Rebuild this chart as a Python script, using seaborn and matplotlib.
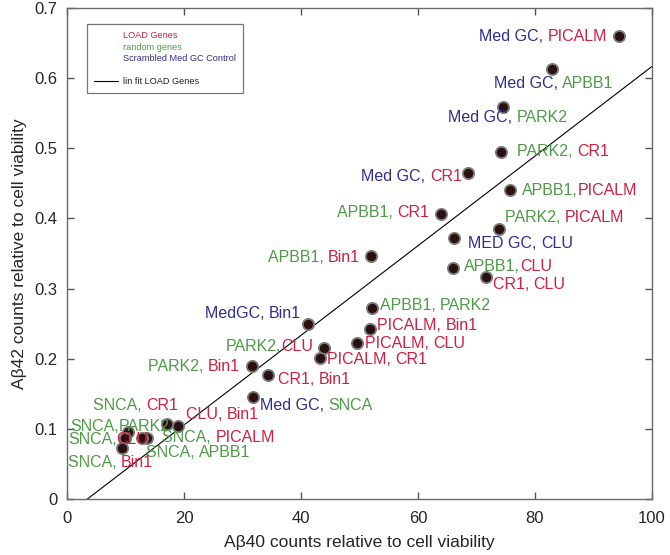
import numpy as np
import pandas as pd
import matplotlib
matplotlib.use("Agg")
import matplotlib.pyplot as plt
from matplotlib.lines import Line2D
import seaborn as sns

# gene pairs: Abeta40 (x) and Abeta42 (y) counts relative to cell viability
ab40 = [94.4, 82.9, 74.5, 74.2, 68.5, 75.7, 63.9, 73.8, 66.2, 52.0,
        66.0, 71.6, 52.1, 51.8, 41.2, 49.6, 43.9, 43.2, 31.6, 34.4,
        31.8, 19.0, 17.1, 10.4, 9.9, 13.7, 12.8, 9.4]
ab42 = [0.660, 0.613, 0.559, 0.495, 0.465, 0.441, 0.406, 0.385, 0.372, 0.346,
        0.329, 0.317, 0.272, 0.242, 0.249, 0.222, 0.215, 0.201, 0.190, 0.177,
        0.145, 0.104, 0.107, 0.096, 0.087, 0.087, 0.087, 0.073]
gene_a = ["Med GC, ", "Med GC, ", "Med GC, ", "PARK2, ", "Med GC, ", "APBB1,", "APBB1, ",
          "PARK2, ", "MED GC, ", "APBB1, ", "APBB1,", "CR1, ", "APBB1, ", "PICALM, ",
          "MedGC, ", "PICALM, ", "PARK2,", "PICALM, ", "PARK2, ", "CR1, ", "Med GC, ",
          "CLU, ", "SNCA, ", "SNCA,", "SNCA,", "SNCA, ", "SNCA, ", "SNCA, "]
gene_b = ["PICALM", "APBB1", "PARK2", "CR1", "CR1", "PICALM", "CR1",
          "PICALM", "CLU", "Bin1", "CLU", "CLU", "PARK2", "Bin1",
          "Bin1", "CLU", "CLU", "CR1", "Bin1", "Bin1", "SNCA",
          "Bin1", "CR1", "PARK2", "CLU", "PICALM", "APBB1", "Bin1"]
group_a = ["S", "S", "S", "R", "S", "R", "R", "R", "S", "R", "R", "L", "R", "L",
           "S", "L", "R", "L", "R", "L", "S", "L", "R", "R", "R", "R", "R", "R"]
group_b = ["L", "R", "R", "L", "L", "L", "L", "L", "S", "L", "L", "L", "R", "L",
           "S", "L", "L", "L", "L", "L", "R", "L", "L", "R", "L", "L", "R", "L"]

# label placement: side ('r' = text starts at dx, 'l' = text ends at dx), offsets in pixels
side = ["l", "r", "l", "r", "l", "r", "l", "r", "r", "l", "r", "r", "r", "r",
        "l", "r", "l", "r", "l", "r", "r", "r", "l", "r", "r", "r", "r", "r"]
dx = [-12, -58, 65, 16, -6, 12, -12, 6, 14, -11, 11, 7, 8, 7,
      -7, 8, -11, 7, -12, 10, 7, 8, 11, -58, -57, 15, 4, -54]
dy = [0, -14, -11, 0, -4, -1, 2, 11, -5, -1, 2, -8, 3, 4,
      11, 0, 2, -2, -1, -5, -8, 12, 18, 5, -2, 0, -15, -15]

fit_slope = 0.00639
fit_intercept = -0.0224

colors = {"L": "#cc2142", "R": "#4f9a48", "S": "#2e2f8c"}

df = pd.DataFrame({"ab40": ab40, "ab42": ab42})
fit = pd.DataFrame({"x": [0, 100]})
fit["y"] = fit_slope * fit["x"] + fit_intercept

sns.set_style("ticks")
plt.rcParams["font.family"] = ["Liberation Sans", "DejaVu Sans"]

fig = plt.figure(figsize=(6.7, 5.55), dpi=100)
ax = fig.add_axes([0.1, 0.101, 0.873, 0.8846])

sns.lineplot(data=fit, x="x", y="y", color="black", linewidth=0.8, ax=ax)
sns.scatterplot(data=df, x="ab40", y="ab42", s=65, color="#2a1010",
                edgecolor="#7a7a7a", linewidth=1.3, zorder=3, ax=ax)

for i in range(len(ab40)):
    if side[i] == "r":
        t1 = ax.annotate(gene_a[i], (ab40[i], ab42[i]), xytext=(dx[i], dy[i]),
                         textcoords="offset pixels", ha="left", va="center",
                         fontsize=11.5, color=colors[group_a[i]])
        ax.annotate(gene_b[i], xy=(1, 0), xycoords=t1, ha="left", va="bottom",
                    fontsize=11.5, color=colors[group_b[i]])
    else:
        t2 = ax.annotate(gene_b[i], (ab40[i], ab42[i]), xytext=(dx[i], dy[i]),
                         textcoords="offset pixels", ha="right", va="center",
                         fontsize=11.5, color=colors[group_b[i]])
        ax.annotate(gene_a[i], xy=(0, 0), xycoords=t2, ha="right", va="bottom",
                    fontsize=11.5, color=colors[group_a[i]])

ax.set_xlim(0, 100)
ax.set_ylim(0, 0.7)
ax.set_xticks([0, 20, 40, 60, 80, 100])
ax.set_yticks(np.arange(0, 0.71, 0.1))
ax.set_yticklabels(["0", "0.1", "0.2", "0.3", "0.4", "0.5", "0.6", "0.7"])
ax.tick_params(direction="in", bottom=True, left=True, top=True, right=True,
               length=5, width=1, color="#555555", labelsize=12)
ax.tick_params(axis="x", pad=9)
ax.tick_params(axis="y", pad=7)
for sp in ax.spines.values():
    sp.set_visible(True)
    sp.set_color("#6a6a6a")
    sp.set_linewidth(1.0)
ax.set_xlabel("A\u03b240 counts relative to cell viability", fontsize=12.5, labelpad=6)
ax.set_ylabel("A\u03b242 counts relative to cell viability", fontsize=12.5, labelpad=5)

handles = [Line2D([], [], linestyle="none"),
           Line2D([], [], linestyle="none"),
           Line2D([], [], linestyle="none"),
           Line2D([], [], linestyle="none"),
           Line2D([], [], color="black", linewidth=0.8)]
labels = ["LOAD Genes", "random genes", "Scrambled Med GC Control", " ", "lin fit LOAD Genes"]
leg = ax.legend(handles, labels, loc="upper left", bbox_to_anchor=(0.034, 0.967),
                borderaxespad=0, fontsize=6.6, frameon=True, fancybox=False,
                handlelength=2.6, labelspacing=0.28, borderpad=0.75, handletextpad=0.55)
leg.get_frame().set_edgecolor("#555555")
leg.get_frame().set_linewidth(0.9)
for txt, c in zip(leg.get_texts(), [colors["L"], colors["R"], colors["S"], "black", "#222222"]):
    txt.set_color(c)

fig.savefig("out.png", dpi=100)
